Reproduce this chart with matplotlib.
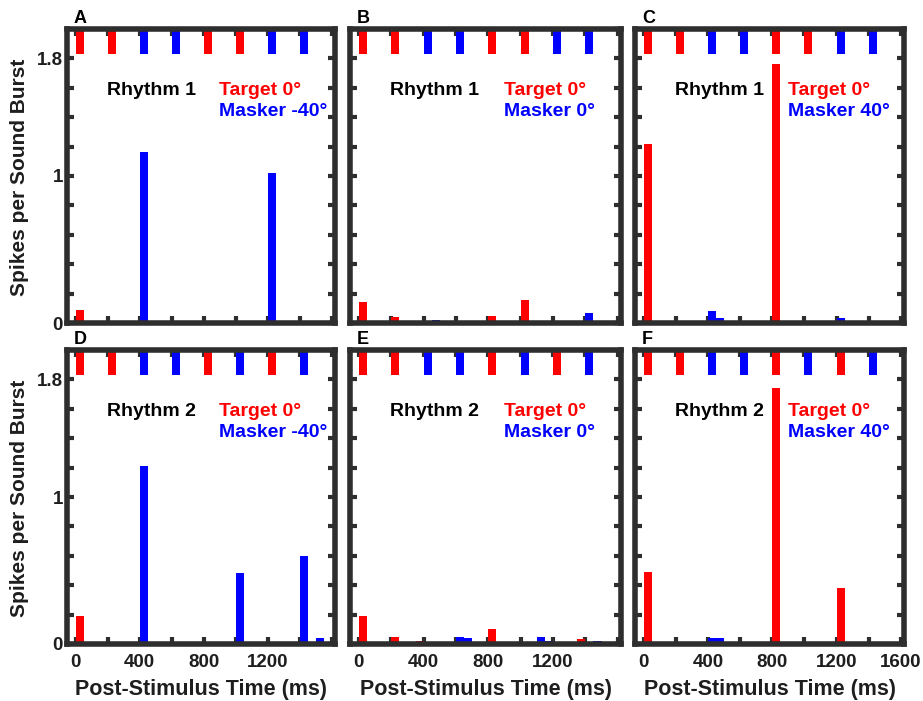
import matplotlib
matplotlib.use("Agg")
import matplotlib.pyplot as plt
from matplotlib.ticker import MultipleLocator, FixedLocator

plt.rcParams['font.family'] = ['Liberation Sans', 'DejaVu Sans']
plt.rcParams['font.weight'] = 'bold'

# ---------------- data ----------------
stim_onsets = [0, 200, 400, 600, 800, 1000, 1200, 1400]
rhythm1_pattern = ['T', 'T', 'M', 'M', 'T', 'T', 'M', 'M']
rhythm2_pattern = ['T', 'T', 'M', 'M', 'T', 'M', 'T', 'M']

panel_letters = ['A', 'B', 'C', 'D', 'E', 'F']
rhythm_names = ['Rhythm 1', 'Rhythm 1', 'Rhythm 1', 'Rhythm 2', 'Rhythm 2', 'Rhythm 2']
masker_labels = ['Masker -40°', 'Masker 0°', 'Masker 40°',
                 'Masker -40°', 'Masker 0°', 'Masker 40°']
target_label = 'Target 0°'

# PSTH bins (bin start, ms) and spikes per sound burst
A_target_bins = [0, 800]
A_target_vals = [0.09, 0.015]
A_masker_bins = [400, 1200]
A_masker_vals = [1.16, 1.02]

B_target_bins = [0, 200, 800, 1000]
B_target_vals = [0.14, 0.04, 0.05, 0.155]
B_masker_bins = [450, 1400]
B_masker_vals = [0.02, 0.07]

C_target_bins = [0, 800]
C_target_vals = [1.22, 1.76]
C_masker_bins = [400, 450, 1200]
C_masker_vals = [0.085, 0.035, 0.035]

D_target_bins = [0]
D_target_vals = [0.19]
D_masker_bins = [400, 1000, 1400, 1500]
D_masker_vals = [1.21, 0.48, 0.60, 0.04]

E_target_bins = [0, 200, 350, 800, 1350]
E_target_vals = [0.19, 0.05, 0.02, 0.10, 0.035]
E_masker_bins = [600, 650, 1100, 1150, 1450]
E_masker_vals = [0.05, 0.04, 0.05, 0.02, 0.02]

F_target_bins = [0, 800, 1200]
F_target_vals = [0.49, 1.74, 0.38]
F_masker_bins = [400, 450, 1400]
F_masker_vals = [0.04, 0.04, 0.015]

panels = [
    (A_target_bins, A_target_vals, A_masker_bins, A_masker_vals, rhythm1_pattern),
    (B_target_bins, B_target_vals, B_masker_bins, B_masker_vals, rhythm1_pattern),
    (C_target_bins, C_target_vals, C_masker_bins, C_masker_vals, rhythm1_pattern),
    (D_target_bins, D_target_vals, D_masker_bins, D_masker_vals, rhythm2_pattern),
    (E_target_bins, E_target_vals, E_masker_bins, E_masker_vals, rhythm2_pattern),
    (F_target_bins, F_target_vals, F_masker_bins, F_masker_vals, rhythm2_pattern),
]

x_tick_vals = [0, 400, 800, 1200, 1600]
y_tick_vals = [0, 1, 1.8]

# ---------------- layout ----------------
W, H = 923, 701
fig = plt.figure(figsize=(W / 100, H / 100), dpi=100)

RED = '#ff0000'
BLUE = '#0000ff'
FRAME = '#2e2e2e'
TXT = '#1e1e1e'

lefts = [67, 350, 635]
widths = [268, 271, 269]
tops = [29, 350]
height = 294

bin_w = 50
stim_bottom, stim_top = 1.83, 2.0

for i, (tb, tv, mb, mv, pattern) in enumerate(panels):
    row, col = divmod(i, 3)
    l = lefts[col] / W
    b = 1 - (tops[row] + height) / H
    ax = fig.add_axes([l, b, widths[col] / W, height / H])

    # PSTH bars
    ax.bar(tb, tv, width=bin_w, align='edge', color=RED, linewidth=0, zorder=2)
    ax.bar(mb, mv, width=bin_w, align='edge', color=BLUE, linewidth=0, zorder=2)

    # stimulus markers along the top
    stim_colors = [RED if p == 'T' else BLUE for p in pattern]
    ax.bar(stim_onsets, [stim_top - stim_bottom] * len(stim_onsets), bottom=stim_bottom,
           width=bin_w, align='edge', color=stim_colors, linewidth=0, zorder=2)

    ax.set_xlim(-55, 1620)
    ax.set_ylim(0, 2.0)

    for s in ax.spines.values():
        s.set_linewidth(4.0)
        s.set_color(FRAME)
        s.set_zorder(3)

    ax.xaxis.set_major_locator(FixedLocator(x_tick_vals))
    ax.xaxis.set_minor_locator(MultipleLocator(200))
    ax.yaxis.set_major_locator(FixedLocator(y_tick_vals))
    ax.yaxis.set_minor_locator(MultipleLocator(0.2))
    ax.tick_params(which='both', direction='in', length=5, width=3, color=FRAME,
                   top=True, right=True, labelsize=13.5, labelcolor=TXT)
    ax.tick_params(axis='x', which='major', pad=7)
    ax.tick_params(axis='y', which='major', pad=3)

    if row == 1:
        if col == 2:
            ax.set_xticklabels(['0', '400', '800', '1200', '1600'])
        else:
            ax.set_xticklabels(['0', '400', '800', '1200', ''])
        for t in ax.get_xticklabels():
            t.set_fontweight('bold')
        ax.text(0.5, -0.155, 'Post-Stimulus Time (ms)', transform=ax.transAxes,
                ha='center', va='center', fontsize=15.5, fontweight='bold', color=TXT)
    else:
        ax.set_xticklabels([])

    if col == 0:
        ax.set_yticklabels(['0', '1', '1.8'])
        for t in ax.get_yticklabels():
            t.set_fontweight('bold')
        fig.text(20 / W, 1 - (tops[row] + height / 2 + 1) / H, 'Spikes per Sound Burst',
                 rotation=90, ha='center', va='center', fontsize=15,
                 fontweight='bold', color=TXT)
    else:
        ax.set_yticklabels([])

    # annotations
    ax.text(195, 1.585, rhythm_names[i], ha='left', va='center', fontsize=14,
            fontweight='bold', color='black', zorder=4)
    ax.text(895, 1.585, target_label, ha='left', va='center', fontsize=14,
            fontweight='bold', color=RED, zorder=4)
    ax.text(895, 1.44, masker_labels[i], ha='left', va='center', fontsize=14,
            fontweight='bold', color=BLUE, zorder=4)

    # panel letter
    fig.text((lefts[col] + 7) / W, 1 - (tops[row] - 6) / H, panel_letters[i],
             ha='left', va='baseline', fontsize=13, fontweight='bold', color='black')

fig.savefig('out.png', dpi=100)
